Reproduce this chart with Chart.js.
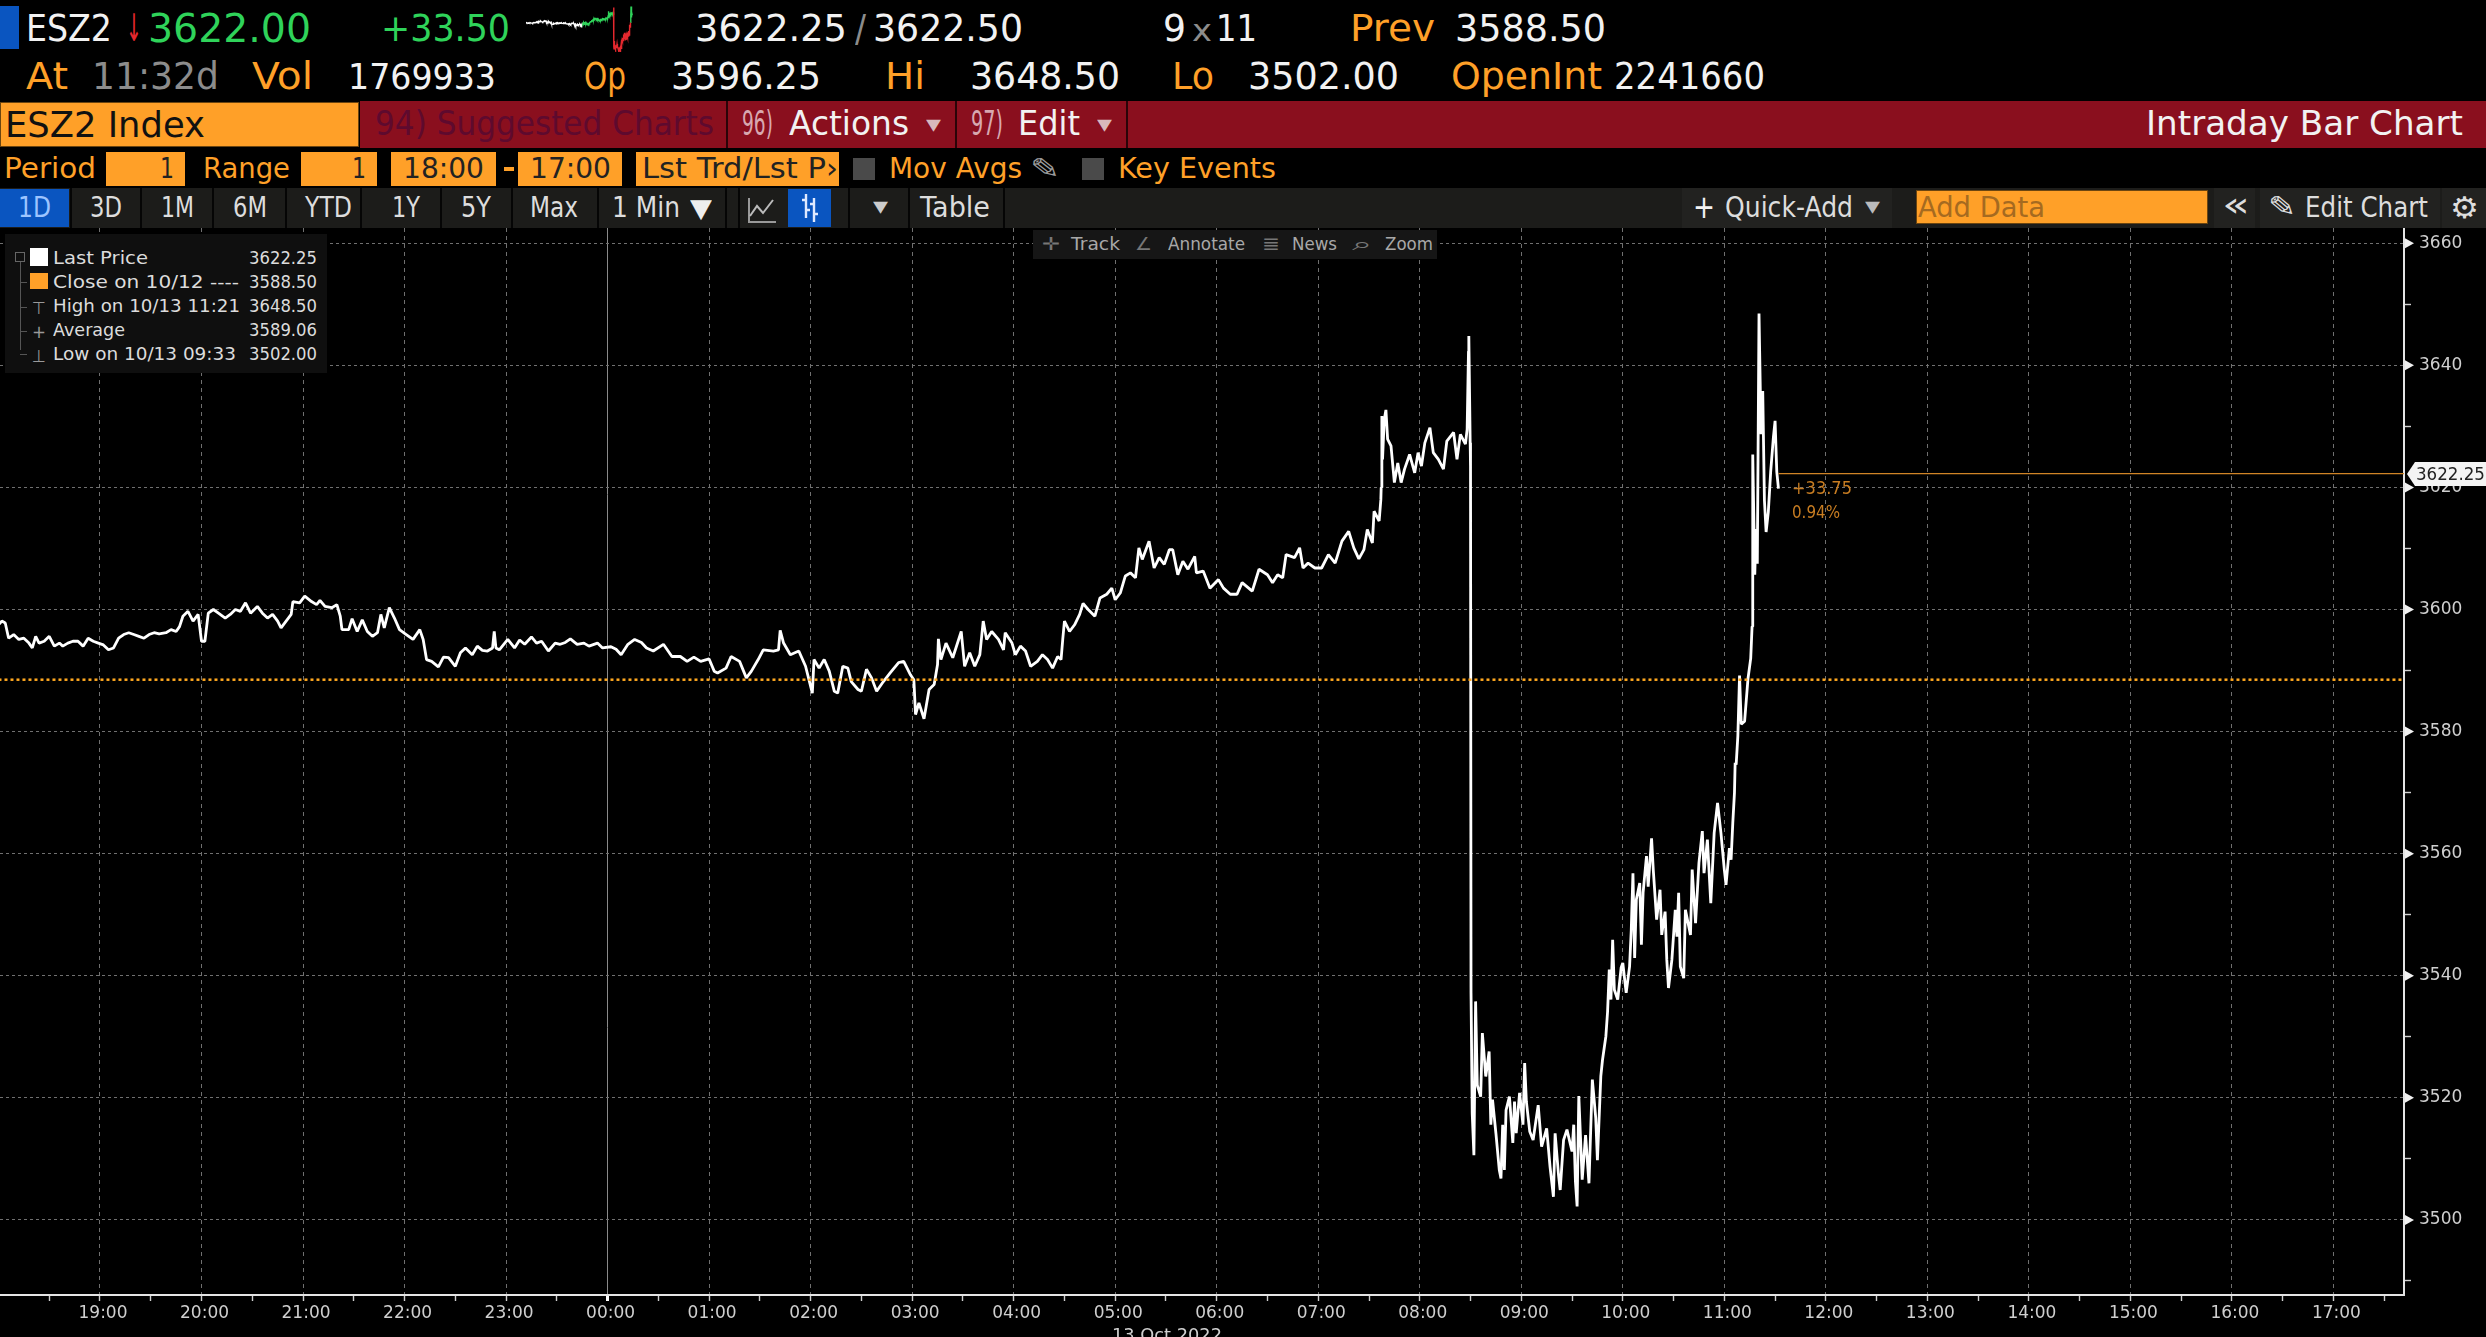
<!DOCTYPE html>
<html><head><meta charset="utf-8">
<script src="https://cdn.jsdelivr.net/npm/chart.js@4"></script>
<style>
html,body{margin:0;padding:0;background:#000;width:2486px;height:1337px;overflow:hidden}
#stage{position:relative;width:2486px;height:1337px;overflow:hidden;background:#000;font-family:"DejaVu Sans",sans-serif}
.t{position:absolute;white-space:nowrap;line-height:1;transform-origin:0 50%}
.b{position:absolute}
#main{position:absolute;left:0;top:228px;width:2486px;height:1109px}
#spark{position:absolute;left:526px;top:6px;width:110px;height:46px}
</style></head><body><div id="stage">
<canvas id="main" width="2486" height="1109"></canvas>
<canvas id="spark" width="110" height="46"></canvas>
</div>
<script>
const HOUR_LABELS = ["19:00","20:00","21:00","22:00","23:00","00:00","01:00","02:00","03:00","04:00","05:00","06:00","07:00","08:00","09:00","10:00","11:00","12:00","13:00","14:00","15:00","16:00","17:00"];
const PRICE_TICKS = [3500,3520,3540,3560,3580,3600,3620,3640,3660];
const PREV_CLOSE = 3588.5;
const LAST_PRICE = 3622.25;
const LAST_MINUTE = 1052;
// minutes since 18:00 on 10/12
const priceMinutes = [0,2,4,6,9,12,15,18,20,22,24,27,30,33,36,38,41,44,47,50,53,56,59,62,65,68,71,74,77,80,83,86,89,92,95,99,102,105,107,109,112,115,118,120,122,124,127,130,134,137,140,143,146,149,153,156,159,162,165,167,170,173,174,178,181,185,188,190,193,197,200,202,203,207,209,212,215,218,221,224,226,228,231,234,237,241,245,249,251,253,256,260,263,266,270,273,276,280,283,286,289,292,293,294,
296,301,305,308,311,315,318,321,325,329,332,335,338,342,346,349,354,357,362,365,368,372,376,380,383,387,393,398,403,407,411,415,420,423,425,430,433,438,442,445,449,452,458,461,462,464,468,473,477,479,481,482,485,488,491,494,496,499,502,504,508,510,513,516,519,523,527,532,535,539,541,542,544,547,550,553,555,555.5,557,560,564,569,571,574,577,580,582,584,587,591,
594,595,599,601,604,607,610,614,617,620,623,626,628,629,630,633,636,639,641,644,648,651,655,658,660,663,666,669,672,674,676,680,683,686,689,692,694,697,700,703,707,708,712,716,721,724,728,732,735,741,745,750,753,756,759,761,766,769,771,774,778,782,786,790,794,798,801,804,807,809,812,813,816,817,
817.2,817.6,818,819,820,821,823,825,827,829,831,834,837,839,841,843,846,848,851,854,856,860,862,864,867,868,868.8,869,869.8,870,
870.3,871,872,873,874,876,877,879,881,882,883,885,887,888,889,890,891,893,895,896,897,899,901,902,903,905,907,910,912,915,917,919,920,922,923,925,927,930,931,932,933,934,936,938,940,942,944,945,947,948,950,951,952,
953,954,955,957,959,960,962,964,965,966,967,968,970,971,972,974,975,977,978,980,982,983,985,986,987,989,991,992,993,994,996,997,1000,1001,1003,1005,1007,1008,1010,1012,1014,1016,1018,1020,1021,1023,1024,1025,1026,1026.4,
1027,1028,1029,1030,1032,1034,1035.6,1036.4,1036.8,1038,1038.7,1039.5,1040.5,1041.7,1042.7,1043.7,1044.7,1046,1047.4,1049,1050,1051,1052];
const priceValues = [3597.5,3598.1,3597.8,3595.3,3595.9,3595.1,3595.3,3594.5,3593.7,3595.6,3594.5,3594.8,3595.6,3594.0,3594.5,3594.0,3594.5,3594.8,3594.8,3594.0,3595.3,3594.8,3594.5,3594.2,3593.4,3593.7,3595.3,3595.9,3596.2,3595.9,3595.6,3595.3,3595.9,3596.2,3596.0,3596.2,3596.7,3596.4,3597.2,3598.9,3599.7,3598.1,3599.2,3594.8,3594.8,3599.4,3600.0,3599.4,3598.6,3599.2,3600.0,3599.7,3601.1,3599.4,3600.5,3599.4,3598.6,3599.2,3598.1,3597.0,3598.1,3599.2,3601.3,3601.1,3602.2,3601.3,3600.8,3601.5,3600.5,3600.3,3600.8,3598.9,3596.7,3596.7,3598.5,3596.4,3598.3,3596.4,3595.6,3596.2,3599.2,3597.0,3600.3,3598.6,3596.7,3595.9,3595.1,3596.7,3595.1,3591.8,3591.5,3590.6,3592.2,3592.1,3590.7,3592.9,3593.7,3592.6,3594.0,3593.3,3593.2,3593.7,3596.4,3593.7,
3593.4,3595.1,3593.7,3595.0,3594.3,3595.5,3594.5,3594.8,3593.2,3594.5,3594.3,3594.6,3595.2,3594.3,3594.5,3594.0,3594.5,3593.7,3593.9,3593.5,3592.6,3594.3,3595.1,3594.6,3593.7,3593.2,3594.3,3592.3,3592.3,3591.5,3592.2,3591.5,3591.9,3589.9,3589.6,3590.4,3592.3,3591.5,3588.8,3589.9,3591.8,3593.4,3593.2,3593.4,3596.6,3594.5,3592.6,3593.2,3590.7,3588.5,3586.3,3591.8,3590.4,3591.8,3589.9,3586.6,3586.3,3590.7,3590.4,3588.2,3586.9,3586.6,3590.2,3588.8,3586.6,3588.2,3589.6,3591.3,3591.5,3589.3,3588.5,3582.8,3584.7,3582.1,3586.9,3587.7,3591.0,3595.2,3591.8,3594.5,3592.1,3596.4,3590.7,3592.9,3590.7,3592.6,3598.1,3595.1,3596.4,3595.1,
3593.4,3596.2,3594.5,3592.6,3594.0,3593.2,3590.7,3591.5,3592.6,3591.8,3590.4,3592.3,3591.8,3595.1,3598.1,3596.4,3597.5,3599.2,3601.0,3600.0,3598.9,3601.9,3602.5,3603.5,3601.6,3602.7,3605.5,3606.0,3605.2,3610.1,3608.2,3611.2,3606.8,3608.5,3607.4,3609.8,3609.8,3605.7,3607.9,3606.6,3608.7,3606.0,3606.3,3603.5,3604.9,3603.5,3602.5,3602.5,3604.4,3603.0,3606.6,3605.7,3604.4,3605.7,3605.2,3609.0,3608.5,3610.1,3606.8,3607.6,3606.8,3606.8,3609.0,3607.6,3611.2,3612.8,3610.1,3608.3,3609.8,3613.1,3610.9,3616.1,3614.5,3618.0,
3620.0,3631.7,3624.6,3631.1,3632.7,3627.9,3626.8,3620.8,3624.0,3620.8,3623.0,3625.4,3622.4,3625.7,3623.5,3627.3,3629.8,3625.7,3624.6,3623.0,3627.6,3629.0,3624.6,3628.7,3627.1,3629.5,3642.3,3644.8,3627.3,3623.5,
3537.2,3517.5,3510.6,3535.8,3522.1,3520.2,3530.6,3523.5,3527.6,3515.6,3519.7,3514.2,3508.2,3506.8,3515.6,3508.2,3518.0,3520.2,3512.6,3519.4,3514.2,3520.8,3515.6,3525.7,3519.4,3514.5,3513.1,3518.8,3512.0,3515.0,3508.7,3503.8,3514.2,3507.4,3504.9,3513.1,3514.8,3511.2,3515.6,3506.3,3502.2,3520.3,3506.6,3513.9,3506.0,3523.0,3516.7,3509.8,3523.5,3526.2,3530.1,3534.1,3541.0,
3536.1,3545.9,3537.7,3536.1,3541.3,3542.1,3537.2,3541.5,3547.5,3556.8,3542.9,3552.5,3555.2,3545.1,3553.6,3559.6,3554.6,3562.5,3557.4,3549.2,3554.1,3546.7,3550.5,3542.6,3538.0,3542.6,3550.8,3546.4,3553.6,3541.5,3539.6,3550.8,3546.7,3557.4,3548.6,3558.5,3563.7,3556.8,3562.3,3551.9,3563.4,3568.3,3563.4,3557.4,3554.9,3560.9,3559.0,3565.0,3570.0,3574.9,
3574.6,3579.3,3589.2,3581.2,3581.7,3588.7,3592.0,3597.2,3625.4,3605.7,3613.2,3607.5,3648.5,3628.7,3635.8,3617.9,3612.7,3616.0,3622.6,3628.2,3630.9,3622.6,3619.8];

const stage = document.getElementById('stage');
function box(x0,y0,x1,y1,bg,extra){const d=document.createElement('div');d.className='b';
  d.style.cssText=`left:${x0}px;top:${y0}px;width:${x1-x0}px;height:${y1-y0}px;background:${bg};${extra||''}`;stage.appendChild(d);return d;}
function T(s,x0,x1,base,size,color,extra){const d=document.createElement('span');d.className='t';d.textContent=s;
  d.style.cssText=`left:${x0}px;top:${base-0.846*size}px;font-size:${size}px;color:${color};${extra||''}`;stage.appendChild(d);
  const w=d.getBoundingClientRect().width;d.style.transform=`scaleX(${(x1-x0)/w})`;return d;}
function icon(x,y,w,h,svg){const d=document.createElement('div');d.className='b';d.style.cssText=`left:${x}px;top:${y}px;width:${w}px;height:${h}px`;
  d.innerHTML=`<svg width="${w}" height="${h}" viewBox="0 0 ${w} ${h}" xmlns="http://www.w3.org/2000/svg">${svg}</svg>`;stage.appendChild(d);}
const OR='#ffa028',WH='#f2f2f2',GR='#2fd35a',GY='#8c8c8c',MR='#8a0f1e',BL='#0a55c0',TB='#1c1c1a';

// Header row 1
box(0,6,19,49,BL);
T('ESZ2',26,112,41.5,38,WH);
T('↓',126,142,41.5,38,'#e5282e');
T('3622.00',148,311,41.5,39,GR);
T('+33.50',381,510,41.5,38,GR);
T('3622.25',695,847,41.5,37,WH);
T('/',855,866,41.5,37,GY);
T('3622.50',873,1023,41.5,37,WH);
T('9',1163,1186,41.5,37,WH);
T('x',1192,1212,41.5,30,GY);
T('11',1216,1257,41.5,37,WH);
T('Prev',1350,1435,41.5,37,OR);
T('3588.50',1455,1606,41.5,37,WH);
// Header row 2
T('At',26,68,89,37,OR);
T('11:32d',92,219,89,37,GY);
T('Vol',252,313,89,37,OR);
T('1769933',348,496,89,36,WH);
T('Op',584,626,89,37,OR);
T('3596.25',671,821,89,37,WH);
T('Hi',885,925,89,37,OR);
T('3648.50',970,1120,89,37,WH);
T('Lo',1172,1214,89,37,OR);
T('3502.00',1248,1399,89,37,WH);
T('OpenInt',1451,1602,89,37,OR);
T('2241660',1614,1765,89,37,WH);
// Maroon bar
box(360,101,2486,148,MR);
box(0,102,359,147,OR,'box-sizing:border-box;border:1px solid #6b4510');
T('ESZ2 Index',5,205,138,35,'#111');
T('94) Suggested Charts',375,714,135,33,'#5e0a2e');
box(726,101,728,148,'#2a0408');box(955,101,957,148,'#2a0408');box(1126,101,1128,148,'#2a0408');
T('96)',742,773,135,33,'#d8a8b0');
T('Actions',789,909,135,33,WH);
T('▾',926,941,132,24,'#d8b8bc');
T('97)',971,1003,135,33,'#d8a8b0');
T('Edit',1018,1080,135,33,WH);
T('▾',1097,1112,132,24,'#d8b8bc');
T('Intraday Bar Chart',2146,2463,135,33,WH);
// Row 4
T('Period',4,96,179,29,OR);
box(106,152,185,186,OR);T('1',160,174,179,29,'#222');
T('Range',203,290,179,29,OR);
box(301,152,377,186,OR);T('1',352,366,179,29,'#222');
box(391,152,496,186,OR);T('18:00',403,484,179,29,'#222');
box(504,167,514,171,OR);
box(518,152,622,186,OR);T('17:00',530,611,179,29,'#222');
box(636,152,839,186,OR,'overflow:hidden');
T('Lst Trd/Lst P',642,826,179,29,'#222');T('›',826,838,179,29,'#222');
box(853,158,875,180,'#4a4a4a');
T('Mov Avgs',889,1022,179,29,OR);
T('✎',1030,1060,179,28,'#9a9a9a');
box(1082,158,1104,180,'#4a4a4a');
T('Key Events',1118,1276,179,29,OR);
// Row 5
box(0,188,2486,228,TB);
box(0,189,69,227,BL);
const periods=[['1D',18,51],['3D',90,122],['1M',161,194],['6M',233,267],['YTD',305,352],['1Y',392,420],['5Y',461,491],['Max',530,578]];
periods.forEach(p=>T(p[0],p[1],p[2],217.5,28,p[0]==='1D'?'#9cc4ff':'#ddd'));
[70,140,212,285,360,440,511,597,725,738,848,908,1003].forEach(x=>box(x,188,x+2,228,'#050505'));
T('1 Min',612,680,217.5,28,'#ddd');T('▼',690,712,217,26,'#eee');
icon(746,196,32,30,'<polyline points="3,2 3,26 30,26" fill="none" stroke="#999" stroke-width="2"/><polyline points="4,20 11,10 17,17 27,4" fill="none" stroke="#bbb" stroke-width="2"/>');
box(788,189,831,227,BL);
icon(796,192,28,32,'<path d="M10 2V26M6 8H10M10 18H14M18 6V30M14 12H18M18 22H22" stroke="#dfe9ff" stroke-width="2.4" fill="none"/>');
T('▾',873,888,214,24,'#ccc');
T('Table',920,990,217.5,28,'#ddd');
box(1682,188,1892,228,'#222220');
T('+',1693,1715,218,32,WH);T('Quick-Add',1725,1853,217.5,28,'#ddd');T('▾',1865,1880,214,24,'#bbb');
box(1916,190,2208,224,OR,'box-sizing:border-box;border:1px solid #6b4510');
T('Add Data',1918,2045,217.5,28,'#a56a20');
box(2214,188,2255,228,'#222220');T('«',2222,2250,216,34,'#ddd');
box(2260,188,2440,228,'#222220');T('✎',2268,2296,217,28,'#ddd');T('Edit Chart',2305,2428,217.5,28,'#ddd');
box(2442,188,2486,228,'#222220');T('⚙',2450,2479,218,30,'#ddd');
// Chart tool strip
box(1033,230,1437,259,'#161616');
T('✛',1042,1060,250,18,'#777');T('Track',1071,1120,250,18,'#a8a8a8');
T('∠',1135,1152,250,18,'#777');T('Annotate',1168,1245,250,18,'#a8a8a8');
T('≣',1262,1280,250,18,'#777');T('News',1292,1337,250,18,'#a8a8a8');
T('⌕',1352,1372,250,18,'#777');T('Zoom',1385,1433,250,18,'#a8a8a8');
// Legend
box(5,234,327,373,'#0f0f0f');
box(20,262,21,350,'#555');box(15,252,25,262,'#0f0f0f','box-sizing:border-box;border:1px solid #666');
[282,307,331,354].forEach(y=>box(20,y,27,y+1,'#555'));
box(30,248,48,266,'#ffffff');box(30,273,48,289,OR);
T('⊤',32,46,314,17,'#999');T('+',32,46,338,18,'#999');T('⊥',32,46,362,17,'#999');
const legendRows=[['Last Price',53,148,'3622.25',264],['Close on 10/12 ----',53,239,'3588.50',288],['High on 10/13 11:21',53,240,'3648.50',312],['Average',53,125,'3589.06',336],['Low on 10/13 09:33',53,236,'3502.00',360]];
legendRows.forEach(r=>{T(r[0],r[1],r[2],r[4],17,'#dcdcdc');T(r[3],249,317,r[4],17,'#dcdcdc');});
// Annotations
T('+33.75',1792,1852,494,17,'#c87d22');
T('0.94%',1792,1840,518,17,'#c87d22');
box(2407,462,2486,486,'#f4f4f4','clip-path:polygon(0 50%,8px 0,100% 0,100% 100%,8px 100%)');
T('3622.25',2416,2485,480,17,'#222');
T('13 Oct 2022',1112,1222,1341,18,'#cfcfcf');

const gridC='#707070';
const triPlugin={id:'yMarkers',afterDraw(c){const s=c.scales.y,ctx=c.ctx;ctx.save();ctx.fillStyle='#f0f0f0';
  PRICE_TICKS.forEach(v=>{const y=s.getPixelForValue(v);const x=s.left+1;ctx.beginPath();ctx.moveTo(x,y-5);ctx.lineTo(x+9,y);ctx.lineTo(x,y+5);ctx.closePath();ctx.fill();});ctx.restore();}};
const fmtH=v=>{const h=(18+v/60)%24;return String(h).padStart(2,'0')+':00';};

new Chart(document.getElementById('main'),{
  type:'line',
  plugins:[triPlugin],
  data:{datasets:[
    {label:'Last Price',data:priceMinutes.map((m,i)=>({x:m,y:priceValues[i]})),borderColor:'#ffffff',borderWidth:2.8,pointRadius:0,tension:0,borderJoinStyle:'bevel',order:2},
    {label:'Close on 10/12',data:[{x:0,y:PREV_CLOSE},{x:1440,y:PREV_CLOSE}],borderColor:'#ffa820',borderWidth:2.5,borderDash:[3,3],pointRadius:0,order:1},
    {label:'Last',data:[{x:LAST_MINUTE,y:LAST_PRICE},{x:1440,y:LAST_PRICE}],borderColor:'#d08426',borderWidth:1.3,pointRadius:0,order:0}
  ]},
  options:{
    responsive:false,animation:false,events:[],
    layout:{padding:0},
    plugins:{legend:{display:false},tooltip:{enabled:false}},
    scales:{
      x:{type:'linear',position:'bottom',min:0.9,max:1421.7,
        afterFit(s){s.height=42;s.paddingLeft=0;s.paddingRight=0;},
        border:{color:'#e4e4e4',width:2,dash:c=>(c.tick&&c.tick.value===360)?[]:[4,4]},
        grid:{color:c=>{const v=c.tick.value;if(v===360)return '#8a8a8a';return v%60===0?gridC:'rgba(0,0,0,0)';},lineWidth:1,tickLength:6,tickColor:c=>c.tick.value===360?'#ffffff':'#cfcfcf',tickWidth:c=>c.tick.value===360?3:1.4,tickBorderDash:[]},
        ticks:{stepSize:30,autoSkip:false,maxRotation:0,minRotation:0,includeBounds:false,color:'#cfcfcf',padding:2,labelOffset:3,font:{family:'"DejaVu Sans"',size:17},
          callback:v=>v%60===0&&HOUR_LABELS.includes(fmtH(v))?fmtH(v):''}
      },
      y:{type:'linear',position:'right',min:3487.7,max:3662.5,
        afterFit(s){s.width=82;s.paddingTop=0;s.paddingBottom=0;},
        border:{color:'#e4e4e4',width:2,dash:[3,3]},
        grid:{color:c=>c.tick.value%20===0?gridC:'rgba(0,0,0,0)',lineWidth:1,tickLength:7,tickColor:'#cfcfcf',tickWidth:1.4,tickBorderDash:[]},
        ticks:{stepSize:10,autoSkip:false,includeBounds:false,color:'#cfcfcf',padding:8,font:{family:'"DejaVu Sans"',size:17},
          callback:v=>PRICE_TICKS.includes(v)?String(v):''}
      }
    }
  }
});

new Chart(document.getElementById('spark'),{
  type:'line',
  data:{datasets:[{data:priceMinutes.map((m,i)=>({x:m,y:priceValues[i]})),borderWidth:1.4,pointRadius:0,tension:0,
    segment:{borderColor:c=>{const m=c.p0.parsed.x;return m<560?'#ffffff':(m<868||m>1036?'#2fd35a':'#e5282e');}}}]},
  options:{responsive:false,animation:false,events:[],layout:{padding:0},
    plugins:{legend:{display:false},tooltip:{enabled:false}},
    scales:{x:{type:'linear',display:false,min:0,max:1090},y:{type:'linear',display:false,min:3500,max:3650}}}
});
</script></body></html>
